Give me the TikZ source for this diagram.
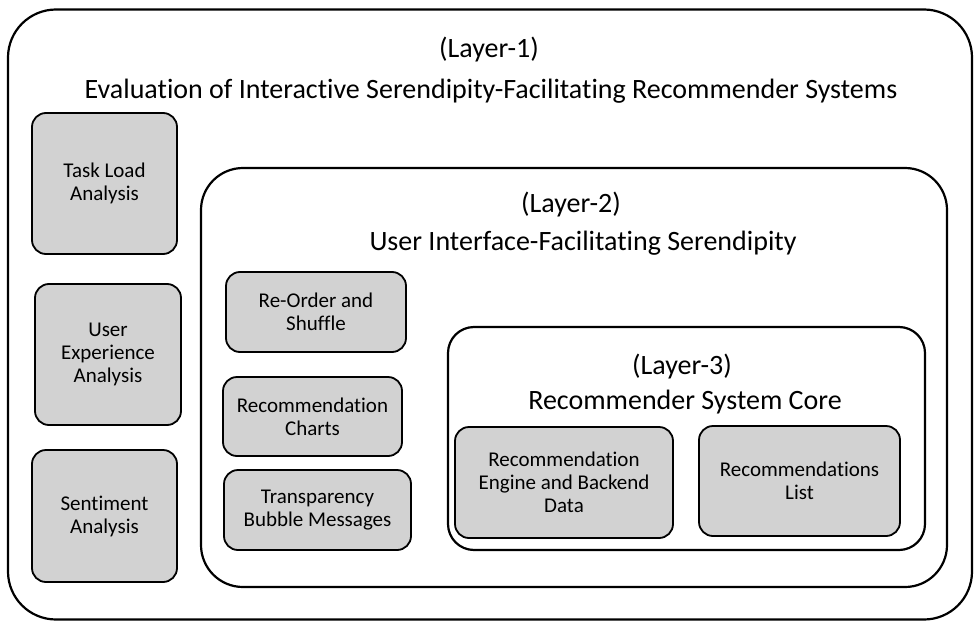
\documentclass[tikz,border=0pt]{standalone}
\usepackage{fontspec}
\setmainfont[Ligatures=NoCommon]{Carlito}
\definecolor{boxgray}{RGB}{210,210,210}
\begin{document}
\begin{tikzpicture}[x=1pt,y=-1pt,
  layer/.style={draw=black, line width=2.2pt, fill=white, inner sep=0pt},
  item/.style={draw=black, line width=1.8pt, fill=boxgray, rounded corners=14pt,
    inner sep=2pt, align=center, font=\fontsize{21}{23}\selectfont},
  title/.style={anchor=base, inner sep=0pt, font=\fontsize{28}{32}\selectfont}]
\useasboundingbox (0,0) rectangle (974,626);

% layer frames
\node[layer, rounded corners=48pt, minimum width=964pt, minimum height=610pt] (l1) at (490,314.5) {};
\node[layer, rounded corners=42pt, minimum width=746pt, minimum height=419pt] (l2) at (574,377.5) {};
\node[layer, rounded corners=26pt, minimum width=477pt, minimum height=223pt] (l3) at (686.5,438.5) {};

% layer titles
\node[title] (t1a) at (489,57) {(Layer-1)};
\node[title] (t1b) at (491,98) {Evaluation of Interactive Serendipity-Facilitating Recommender Systems};
\node[title] (t2a) at (571,212) {(Layer-2)};
\node[title] (t2b) at (583,250) {User Interface-Facilitating Serendipity};
\node[title] (t3a) at (682,374) {(Layer-3)};
\node[title] (t3b) at (685,409) {Recommender System Core};

% layer 1 components
\node[item, minimum width=145pt, minimum height=141pt] (task) at (104.5,183.5) {Task Load\\Analysis};
\node[item, minimum width=146pt, minimum height=141pt] (ux) at (108,354.5) {User\\Experience\\Analysis};
\node[item, minimum width=145pt, minimum height=132pt] (sent) at (104.5,516) {Sentiment\\Analysis};

% layer 2 components
\node[item, minimum width=180pt, minimum height=80pt] (reorder) at (316,312) {Re-Order and\\Shuffle};
\node[item, minimum width=179pt, minimum height=79pt] (charts) at (312.5,416.5) {Recommendation\\Charts};
\node[item, minimum width=187pt, minimum height=80pt] (bubble) at (317.5,510) {Transparency\\Bubble Messages};

% layer 3 components
\node[item, minimum width=218pt, minimum height=111pt] (engine) at (564,482.5) {Recommendation\\Engine and Backend\\Data};
\node[item, minimum width=201pt, minimum height=110pt] (list) at (799.5,481) {Recommendations\\List};
\end{tikzpicture}
\end{document}
